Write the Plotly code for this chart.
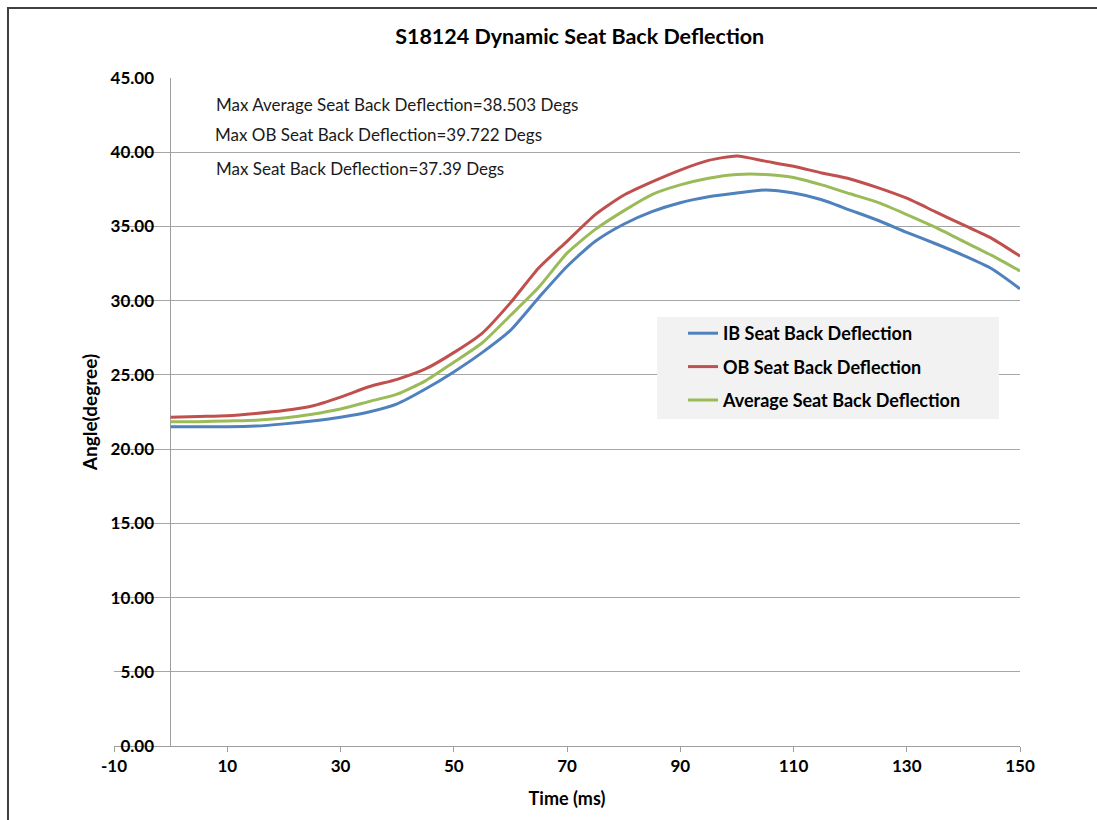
import plotly.graph_objects as go

# ---- data ----
time_ms = [0, 5, 10, 15, 20, 25, 30, 35, 40, 45, 50, 55, 60, 65, 70, 75,
           80, 85, 90, 95, 100, 105, 110, 115, 120, 125, 130, 135, 140, 145, 150]

ib_deflection = [21.5, 21.5, 21.5, 21.55, 21.7, 21.9, 22.15, 22.5, 23.05, 24.05, 25.2,
                 26.5, 28.0, 30.2, 32.3, 34.0, 35.15, 36.0, 36.6, 37.0, 37.25, 37.45,
                 37.25, 36.8, 36.1, 35.4, 34.6, 33.85, 33.05, 32.15, 30.8]

ob_deflection = [22.15, 22.2, 22.25, 22.4, 22.6, 22.9, 23.5, 24.2, 24.7, 25.4, 26.5,
                 27.8, 29.85, 32.2, 34.0, 35.8, 37.1, 38.0, 38.8, 39.45, 39.75, 39.4,
                 39.05, 38.6, 38.2, 37.6, 36.9, 36.0, 35.1, 34.2, 33.0]

avg_deflection = [21.85, 21.85, 21.9, 21.95, 22.1, 22.35, 22.7, 23.2, 23.7, 24.6, 25.85,
                  27.15, 29.0, 30.9, 33.2, 34.8, 36.05, 37.15, 37.8, 38.25, 38.5, 38.5,
                  38.3, 37.8, 37.2, 36.6, 35.8, 34.95, 34.0, 33.05, 32.0]

series_names = ["IB Seat Back Deflection", "OB Seat Back Deflection",
                "Average Seat Back Deflection"]
series_colors = ["#4F81BD", "#C0504D", "#9BBB59"]

x_ticks = [-10, 10, 30, 50, 70, 90, 110, 130, 150]
y_ticks = [0, 5, 10, 15, 20, 25, 30, 35, 40, 45]

notes = ["Max Average Seat Back Deflection=38.503 Degs",
         "Max OB Seat Back Deflection=39.722 Degs",
         "Max Seat Back Deflection=37.39 Degs"]

FONT = "Lato"

fig = go.Figure()
for name, ys, col in zip(series_names, [ib_deflection, ob_deflection, avg_deflection], series_colors):
    fig.add_trace(go.Scatter(
        x=time_ms, y=ys, mode="lines", name=name, legendgroup=name,
        line=dict(color=col, width=3, shape="spline", smoothing=0.6),
    ))

# text notes
note_pos = [(7.6, 43.2), (7.4, 41.2), (7.6, 38.9)]
for txt, (nx, ny) in zip(notes, note_pos):
    fig.add_annotation(x=nx, y=ny, xref="x", yref="y", text=txt, showarrow=False,
                       xanchor="left", yanchor="middle",
                       font=dict(family=FONT, size=17, color="#1a1a1a"))

# outer frame
fig.add_shape(type="rect", xref="paper", yref="paper",
              x0=-0.117, x1=1.2, y0=-0.2, y1=1.1048,
              line=dict(color="#404040", width=2), layer="below")

# legend background box
fig.add_shape(type="rect", xref="paper", yref="paper",
              x0=543 / 906, x1=885 / 906, y0=(746 - 419) / 668, y1=(746 - 317) / 668,
              fillcolor="#f2f2f2", line=dict(width=0), layer="above")

fig.update_layout(
    width=1097, height=820,
    margin=dict(l=114, r=77, t=78, b=74, autoexpand=False),
    paper_bgcolor="white", plot_bgcolor="white",
    font=dict(family=FONT, color="#000000"),
    title=dict(text="<b>S18124 Dynamic Seat Back Deflection</b>",
               x=0.514, xref="paper", xanchor="center",
               y=1 - 36 / 820, yanchor="middle",
               font=dict(family=FONT, size=21.5, color="#000000")),
    xaxis=dict(range=[-10, 150], tickvals=x_ticks, ticktext=[str(v) for v in x_ticks],
               showgrid=False, showline=True, linecolor="#9e9e9e", linewidth=1,
               ticks="outside", ticklen=5, tickcolor="#9e9e9e",
               zeroline=True, zerolinecolor="#9e9e9e", zerolinewidth=1,
               tickfont=dict(family=FONT, size=17, color="#000000", weight="bold"),
               title=dict(text="<b>Time (ms)</b>", standoff=16,
                          font=dict(family=FONT, size=18, color="#000000")),
               automargin=False),
    yaxis=dict(range=[0, 45], tickvals=y_ticks, tickformat=".2f",
               anchor="free", position=57 / 906,
               showgrid=True, gridcolor="#a6a6a6", gridwidth=1,
               showline=False, zeroline=False, ticks="",
               ticklabelstandoff=17,
               tickfont=dict(family=FONT, size=17, color="#000000", weight="bold"),
               title=dict(text="<b>Angle(degree)</b>", standoff=6,
                          font=dict(family=FONT, size=19, color="#000000")),
               automargin=False),
    legend=dict(x=543 / 906, y=(746 - 315) / 668, xanchor="left", yanchor="top",
                bgcolor="rgba(0,0,0,0)", borderwidth=0, tracegroupgap=7,
                indentation=26, traceorder="grouped",
                font=dict(family=FONT, size=18, color="#000000", weight="bold")),
    showlegend=True,
)

fig.write_html("out.html")
